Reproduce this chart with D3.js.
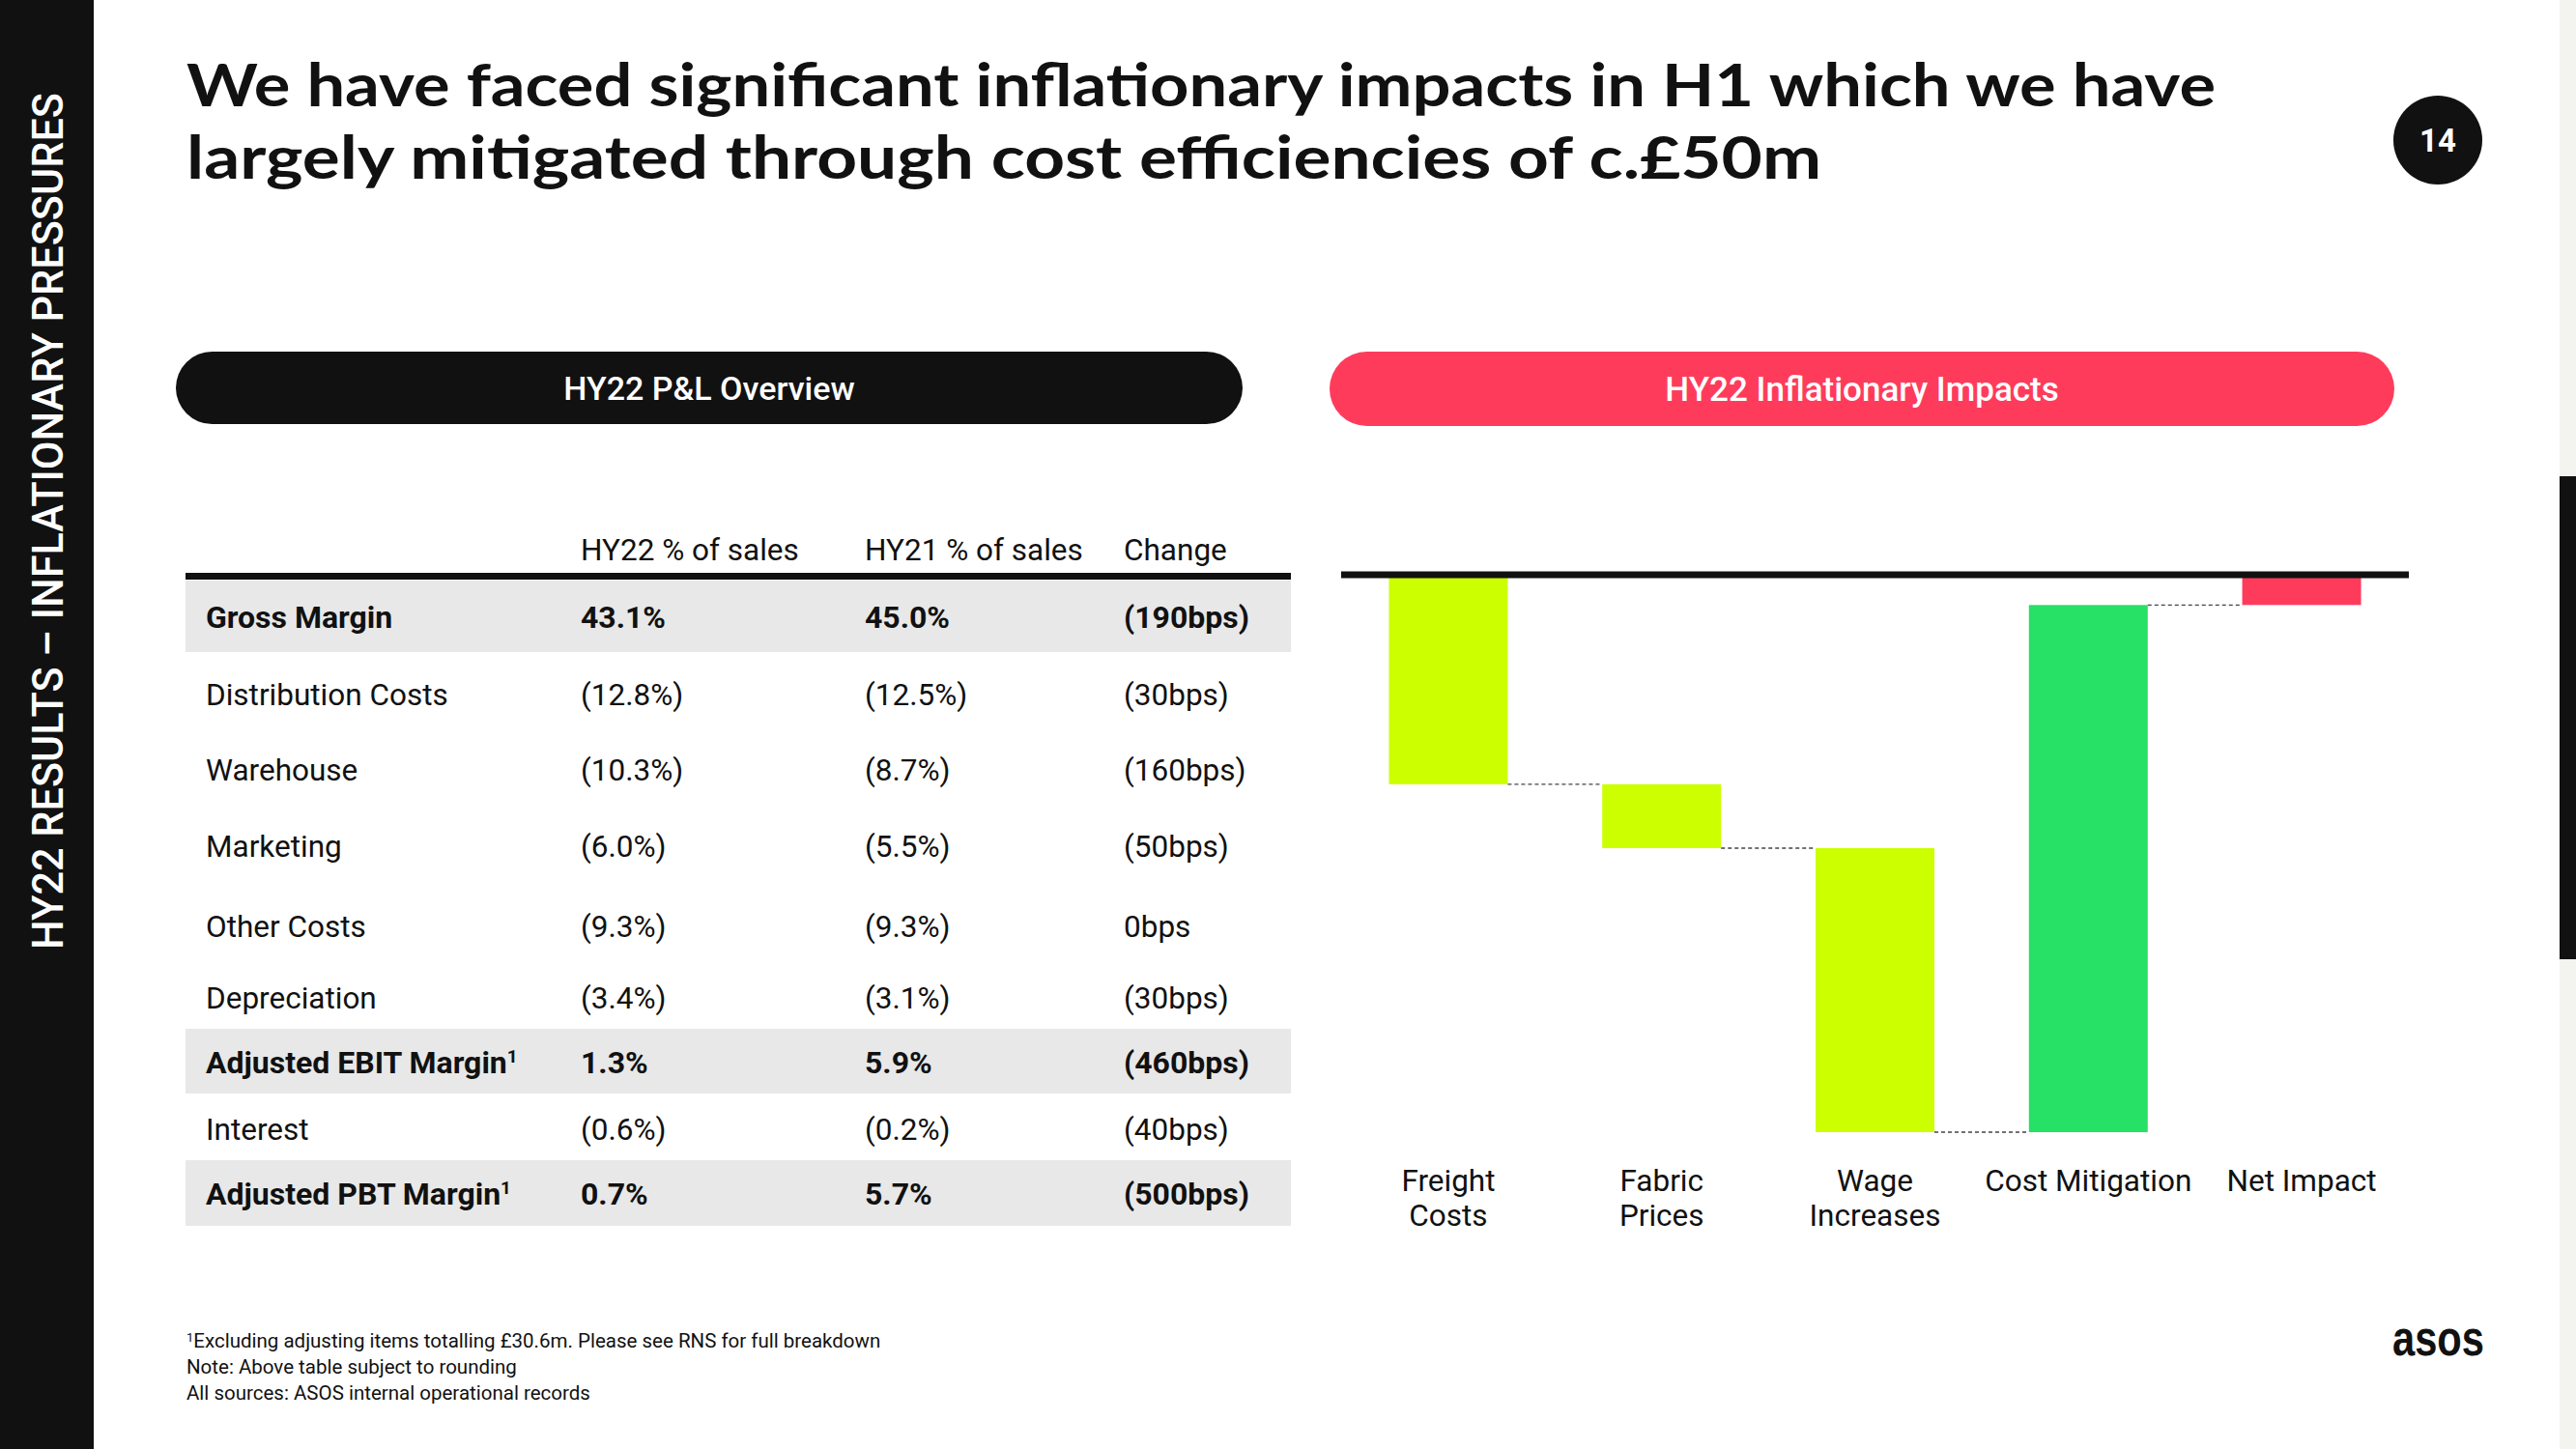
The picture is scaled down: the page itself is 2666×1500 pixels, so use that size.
<!DOCTYPE html>
<html><head><meta charset="utf-8">
<script src="https://cdn.jsdelivr.net/npm/d3@7"></script>
<style>html,body{margin:0;padding:0;background:#fff;overflow:hidden}svg{display:block}</style>
</head><body>
<script>
// ---------- DATA ----------
const titleLines = ["We have faced significant inflationary impacts in H1 which we have",
                    "largely mitigated through cost efficiencies of c.£50m"];
const sideLabel = "HY22 RESULTS – INFLATIONARY PRESSURES";
const pageNumber = "14";
const tableTitle = "HY22 P&L Overview";
const chartTitle = "HY22 Inflationary Impacts";

const tableHeaders = ["", "HY22 % of sales", "HY21 % of sales", "Change"];
const rowLabels = ["Gross Margin","Distribution Costs","Warehouse","Marketing","Other Costs",
                   "Depreciation","Adjusted EBIT Margin","Interest","Adjusted PBT Margin"];
const rowSup   = ["","","","","","","1","","1"];
const hy22     = ["43.1%","(12.8%)","(10.3%)","(6.0%)","(9.3%)","(3.4%)","1.3%","(0.6%)","0.7%"];
const hy21     = ["45.0%","(12.5%)","(8.7%)","(5.5%)","(9.3%)","(3.1%)","5.9%","(0.2%)","5.7%"];
const change   = ["(190bps)","(30bps)","(160bps)","(50bps)","0bps","(30bps)","(460bps)","(40bps)","(500bps)"];
const rowBold  = [true,false,false,false,false,false,true,false,true];

// waterfall (£m)
const wfCategories = [["Freight","Costs"],["Fabric","Prices"],["Wage","Increases"],["Cost Mitigation"],["Net Impact"]];
const wfValues = [-19.8, -6.1, -27.1, 50.3, -2.7];
const wfIsTotal = [false,false,false,false,true];
const wfColors = ["#ccff00","#ccff00","#ccff00","#27e066","#ff3b5c"];

const footnotes = ["Excluding adjusting items totalling £30.6m. Please see RNS for full breakdown",
                   "Note: Above table subject to rounding",
                   "All sources: ASOS internal operational records"];

// ---------- LAYOUT ----------
const W = 2666, H = 1500;
const FONT = "Roboto, 'Liberation Sans', sans-serif";
const svg = d3.select("body").append("svg").attr("width", W).attr("height", H);
svg.append("rect").attr("width", W).attr("height", H).attr("fill", "#fff");

// left sidebar
svg.append("rect").attr("x",0).attr("y",0).attr("width",97).attr("height",H).attr("fill","#111");
svg.append("text").attr("transform","translate(65,983) rotate(-90)")
  .attr("font-family","Roboto, sans-serif").attr("font-weight",500).attr("font-size",44)
  .attr("fill","#fff").attr("textLength",887).attr("lengthAdjust","spacingAndGlyphs").text(sideLabel);

// right edge strip
svg.append("rect").attr("x",2649).attr("y",0).attr("width",17).attr("height",H).attr("fill","#f3f3ef");
svg.append("rect").attr("x",2649).attr("y",493).attr("width",17).attr("height",500).attr("fill","#111");

// title
const titleLens = [2100, 1692];
const titleY = [110, 185];
titleLines.forEach((t,i)=>{
  svg.append("text").attr("x",193).attr("y",titleY[i])
    .attr("font-family","Lato, 'Noto Sans', sans-serif").attr("font-weight",700).attr("font-size",62)
    .attr("fill","#111").attr("textLength",titleLens[i]).attr("lengthAdjust","spacingAndGlyphs").text(t);
});

// page number
svg.append("circle").attr("cx",2523).attr("cy",145).attr("r",46).attr("fill","#111");
svg.append("text").attr("x",2523).attr("y",157).attr("text-anchor","middle")
  .attr("font-family","Roboto, sans-serif").attr("font-weight",700).attr("font-size",33)
  .attr("fill","#fff").text(pageNumber);

// pills
function pill(x0,x1,y0,y1,color,label,fs){
  svg.append("rect").attr("x",x0).attr("y",y0).attr("width",x1-x0).attr("height",y1-y0)
    .attr("rx",(y1-y0)/2).attr("fill",color);
  svg.append("text").attr("x",(x0+x1)/2).attr("y",(y0+y1)/2+12).attr("text-anchor","middle")
    .attr("font-family",FONT).attr("font-weight",500).attr("font-size",fs).attr("fill","#fff").text(label);
}
pill(182,1286,364,439,"#111",tableTitle,34);
pill(1376,2478,364,441,"#ff3b5c",chartTitle,35);

// ---------- TABLE ----------
const colX = [213, 601, 895, 1163];
const tableX0 = 192, tableX1 = 1336;
const rowBaseline = [650, 730, 808, 887, 970, 1044, 1111, 1180, 1247];
const bandTop = {0:601, 6:1065, 8:1201};
const bandBot = {0:675, 6:1132, 8:1269};

const tg = svg.append("g");
rowLabels.forEach((r,i)=>{
  if(rowBold[i]) tg.append("rect").attr("x",tableX0).attr("y",bandTop[i]).attr("width",tableX1-tableX0)
     .attr("height",bandBot[i]-bandTop[i]).attr("fill","#e8e8e8");
});
tableHeaders.forEach((h,j)=>{
  if(h) tg.append("text").attr("x",colX[j]).attr("y",580).attr("font-family",FONT)
    .attr("font-size",31.5).attr("fill","#111").text(h);
});
tg.append("rect").attr("x",tableX0).attr("y",593).attr("width",tableX1-tableX0).attr("height",7).attr("fill","#111");
rowLabels.forEach((r,i)=>{
  const cells = [r, hy22[i], hy21[i], change[i]];
  cells.forEach((c,j)=>{
    const t = tg.append("text").attr("x",colX[j]).attr("y",rowBaseline[i]).attr("font-family",FONT)
      .attr("font-size",rowBold[i]?32:31.5).attr("font-weight",rowBold[i]?700:400).attr("fill","#111");
    t.append("tspan").text(c);
    if(j===0 && rowSup[i]) t.append("tspan").attr("dy",-11).attr("font-size",19).text(rowSup[i]);
  });
});

// ---------- WATERFALL ----------
const x = d3.scaleBand().domain(d3.range(wfValues.length)).range([1388, 2493])
  .paddingInner(0.443).paddingOuter(0.224);
let cum = 0;
const bars = wfValues.map((v,i)=>{
  let start, end;
  if(wfIsTotal[i]){ start = 0; end = v; }
  else { start = cum; end = cum + v; cum = end; }
  return {i, start, end, v};
});
const minCum = d3.min(bars, d=>Math.min(d.start,d.end));
const y = d3.scaleLinear().domain([0, minCum]).range([597, 1172]);

const wg = svg.append("g");
wg.selectAll("rect.bar").data(bars).join("rect").attr("class","bar")
  .attr("x", d=>x(d.i)).attr("width", x.bandwidth())
  .attr("y", d=>y(Math.max(d.start,d.end))).attr("height", d=>Math.abs(y(d.start)-y(d.end)))
  .attr("fill", d=>wfColors[d.i]);
wg.selectAll("line.conn").data(bars.slice(0,-1)).join("line").attr("class","conn")
  .attr("x1", d=>x(d.i)+x.bandwidth()).attr("x2", d=>x(d.i+1))
  .attr("y1", d=>y(d.end)).attr("y2", d=>y(d.end))
  .attr("stroke","#444").attr("stroke-width",1.3).attr("stroke-dasharray","4,3");
wg.append("line").attr("x1",1388).attr("x2",2493).attr("y1",y(0)-2).attr("y2",y(0)-2)
  .attr("stroke","#111").attr("stroke-width",7);
wfCategories.forEach((lines,i)=>{
  lines.forEach((l,k)=>{
    wg.append("text").attr("x",x(i)+x.bandwidth()/2).attr("y",1233+k*36).attr("text-anchor","middle")
      .attr("font-family",FONT).attr("font-size",31.5).attr("fill","#111").text(l);
  });
});

// ---------- FOOTNOTES ----------
footnotes.forEach((f,i)=>{
  const t = svg.append("text").attr("x",193).attr("y",1395 + i*27).attr("font-family",FONT)
    .attr("font-size",20.5).attr("fill","#111");
  if(i===0){ t.append("tspan").attr("font-size",13).attr("dy",-6).text("1"); t.append("tspan").attr("dy",6).text(f); }
  else t.text(f);
});

// logo
svg.append("text").attr("x",2476).attr("y",1403).attr("font-family","'Liberation Sans', Arial, sans-serif")
  .attr("font-weight",700).attr("font-size",52).attr("fill","#111")
  .attr("textLength",95).attr("lengthAdjust","spacingAndGlyphs").text("asos");
</script>
</body></html>
